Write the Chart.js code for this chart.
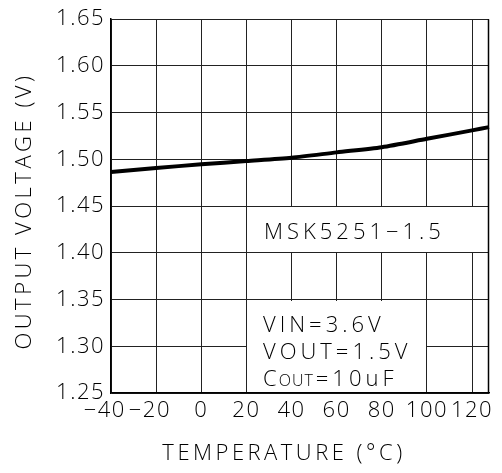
<!DOCTYPE html>
<html><head><meta charset="utf-8">
<script src="https://cdn.jsdelivr.net/npm/chart.js@4/dist/chart.umd.min.js"></script>
<style>html,body{margin:0;padding:0;background:#fff}#wrap{width:502px;height:473px}</style>
</head><body><div id="wrap"><canvas id="c" width="502" height="473"></canvas></div>
<script>
/* -------------------- Data -------------------- */
const temps=[-40,-20,0,20,40,60,80,100,120,127.5];
const vout=[1.4866,1.4908,1.4947,1.4982,1.5018,1.5075,1.5130,1.5220,1.5310,1.5345];
const xTicks=[-40,-20,0,20,40,60,80,100,120];
const yTicks=[1.25,1.30,1.35,1.40,1.45,1.50,1.55,1.60,1.65];
const xTitle='TEMPERATURE (°C)';
const yTitle='OUTPUT VOLTAGE (V)';
const partLabel='MSK5251\u22121.5';
const condLines=['VIN=3.6V','VOUT=1.5V'];
const coutParts=['C','OUT','=10uF'];

/* -------------------- Helpers -------------------- */
const FONT='"Open Sans"';
const TICK_SP='1.5px', NOTE_SP='4px', TITLE_SP='3.5px';
function setSpacing(chart){ chart.ctx.letterSpacing=TICK_SP; }
// minus hangs to the left of the gridline, digits stay centred
function fmtTemp(v){ return v<0 ? '\u2212'+Math.abs(v)+'\u2002' : String(v); }

const annot={
  id:'annot',
  beforeUpdate:setSpacing,
  beforeDraw:setSpacing,
  afterDatasetsDraw(chart){
    const {ctx, chartArea:a, scales:{x,y}}=chart;
    ctx.save();
    // white label boxes over the grid
    ctx.fillStyle='#fff';
    const box=(x0,x1,y0,y1)=>{
      const L=Math.round(x.getPixelForValue(x0))+1, R=Math.round(x.getPixelForValue(x1))-1;
      const T=Math.round(y.getPixelForValue(y1))+1, B=Math.round(y.getPixelForValue(y0))-1;
      ctx.fillRect(L,T,R-L,B-T);
      return {L,R,T,B};
    };
    const b1=box(20,x.max,1.40,1.45);
    const b2=box(20,100,1.25,1.35);
    // right border
    ctx.strokeStyle='#000'; ctx.lineWidth=1.5;
    ctx.beginPath(); ctx.moveTo(a.right-0.5,a.top); ctx.lineTo(a.right-0.5,a.bottom); ctx.stroke();

    ctx.fillStyle='#000';
    ctx.textBaseline='alphabetic'; ctx.textAlign='left';
    ctx.font='300 22px '+FONT; ctx.letterSpacing=NOTE_SP;
    ctx.fillText(partLabel,b1.L+17,b1.T+32);
    condLines.forEach((t,i)=>ctx.fillText(t,b2.L+16,b2.T+31+i*27));
    let cx=b2.L+16, cy=b2.T+31+2*27;
    ctx.fillText(coutParts[0],cx,cy); cx+=ctx.measureText(coutParts[0]).width-2;
    ctx.font='300 16px '+FONT; ctx.letterSpacing='1px';
    ctx.fillText(coutParts[1],cx,cy); cx+=ctx.measureText(coutParts[1]).width+2;
    ctx.font='300 22px '+FONT; ctx.letterSpacing=NOTE_SP;
    ctx.fillText(coutParts[2],cx,cy);

    // axis titles
    ctx.letterSpacing=TITLE_SP;
    ctx.textAlign='center';
    ctx.fillText(xTitle,284,460);
    ctx.translate(25,211); ctx.rotate(-Math.PI/2);
    ctx.textBaseline='middle';
    ctx.fillText(yTitle,0,0);
    ctx.restore();
  }
};

/* -------------------- Chart -------------------- */
Chart.defaults.font.family=FONT;
Chart.defaults.font.size=22;
Chart.defaults.font.weight=300;
Chart.defaults.color='#000';

new Chart(document.getElementById('c'),{
  type:'line',
  data:{ datasets:[{
    data:temps.map((t,i)=>({x:t,y:vout[i]})),
    borderColor:'#000', borderWidth:4, pointRadius:0, tension:0.25, fill:false, clip:false
  }]},
  options:{
    responsive:false, animation:false, devicePixelRatio:1,
    layout:{padding:{top:15,right:13,left:0,bottom:0}},
    plugins:{legend:{display:false},tooltip:{enabled:false}},
    scales:{
      x:{
        type:'linear', min:-40, max:127.5,
        afterBuildTicks:s=>{ s.ticks=xTicks.map(v=>({value:v})); },
        afterFit:s=>{ s.height=80; },
        ticks:{ padding:5, callback:v=>fmtTemp(v), maxRotation:0, autoSkip:false },
        grid:{ color:'#222', lineWidth:1, drawTicks:false },
        border:{ color:'#000', width:1.5 }
      },
      y:{
        min:1.25, max:1.65,
        afterBuildTicks:s=>{ s.ticks=yTicks.map(v=>({value:v})); },
        afterFit:s=>{ s.width=111; },
        ticks:{ padding:6, callback:v=>v.toFixed(2), autoSkip:false },
        grid:{ color:'#222', lineWidth:1, drawTicks:false },
        border:{ color:'#000', width:1.5 }
      }
    }
  },
  plugins:[annot]
});
</script></body></html>
